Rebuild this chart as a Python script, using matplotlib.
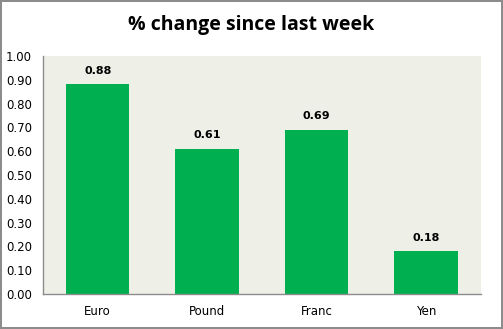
import matplotlib
matplotlib.use("Agg")
from matplotlib import pyplot as plt

categories = ["Euro", "Pound", "Franc", "Yen"]
values = [0.88, 0.61, 0.69, 0.18]
yticks = [0.0, 0.1, 0.2, 0.3, 0.4, 0.5, 0.6, 0.7, 0.8, 0.9, 1.0]

fig = plt.figure(figsize=(5.03, 3.29), dpi=100)
fig.patch.set_facecolor("white")
fig.patch.set_edgecolor("#8c8c8c")
fig.patch.set_linewidth(1.5)

ax = fig.add_axes([0.0855, 0.1064, 0.8705, 0.7236])
ax.set_facecolor("#eef0e8")

x = range(len(categories))
bars = ax.bar(x, values, width=0.58, color="#00b050")

for b, v in zip(bars, values):
    ax.text(b.get_x() + b.get_width() / 2, v + 0.035, f"{v:.2f}",
            ha="center", va="bottom", fontsize=8, fontweight="bold",
            family="DejaVu Sans")

ax.set_xlim(-0.5, len(categories) - 0.5)
ax.set_ylim(0, 1.0)
ax.set_yticks(yticks)
ax.set_yticklabels([f"{t:.2f}" for t in yticks], fontsize=8.5)
ax.set_xticks(list(x))
ax.set_xticklabels(categories, fontsize=8.5)
ax.tick_params(length=0, pad=8, colors="black")
ax.tick_params(axis="y", pad=8)

for s in ["top", "right"]:
    ax.spines[s].set_visible(False)
for s in ["left", "bottom"]:
    ax.spines[s].set_color("#8c8c8c")
    ax.spines[s].set_linewidth(1)

fig.text(0.5, 0.925, "% change since last week", ha="center", va="center",
         fontsize=14, fontweight="bold", family="Open Sans")

fig.savefig("out.png", dpi=100, facecolor=fig.get_facecolor(),
            edgecolor=fig.get_edgecolor())
